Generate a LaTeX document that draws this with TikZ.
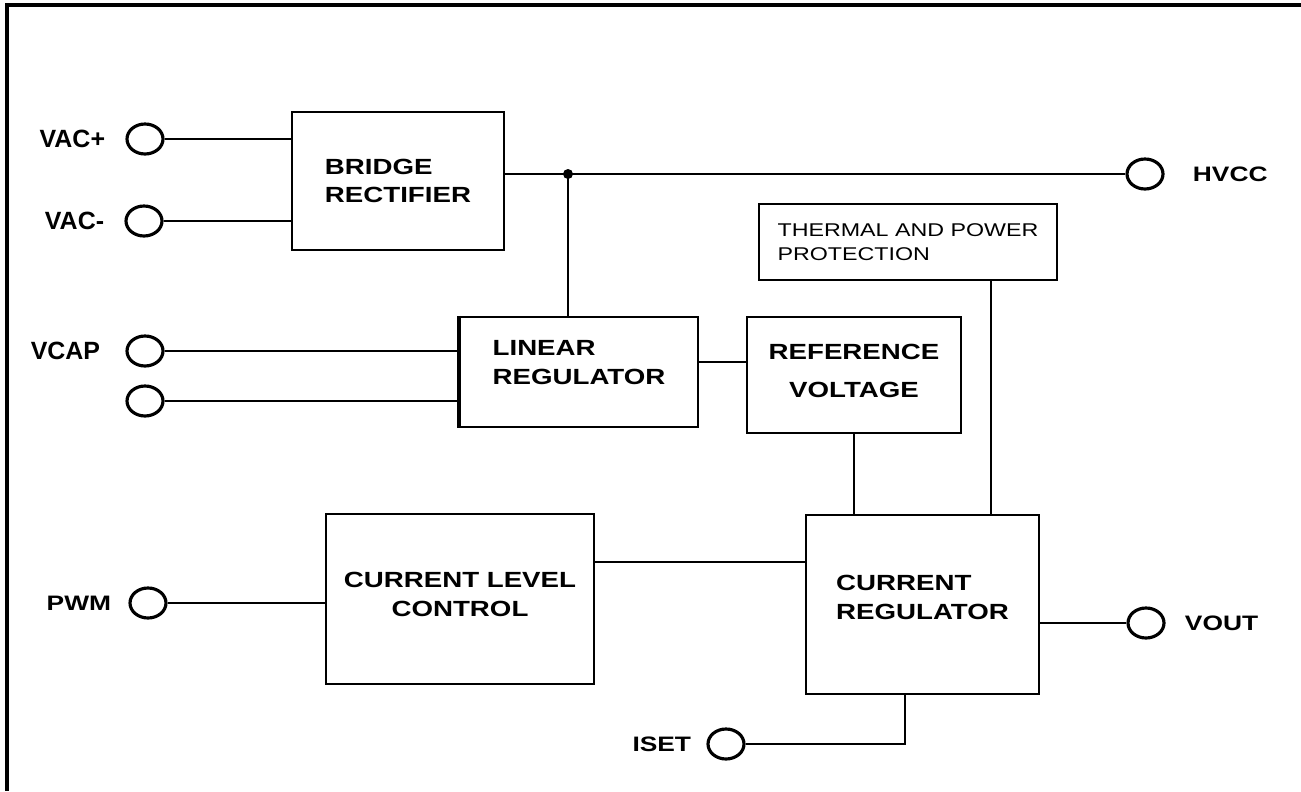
\documentclass[tikz,border=0pt]{standalone}
\usepackage{fontspec}
\setmainfont[FakeStretch=1.26]{Liberation Sans}
\newfontfamily\plainsans{Liberation Sans}
\usetikzlibrary{positioning,shapes.geometric}
\tikzset{
  block/.style={draw, line width=1.4pt, inner sep=0pt, align=center,
    font=\fontsize{12.5}{16.4}\selectfont\bfseries},
  term/.style={draw, ellipse, line width=1.8pt, minimum width=0.72cm, minimum height=0.6cm, inner sep=0pt},
  tag/.style={inner sep=0pt, font=\fontsize{11.9}{14}\selectfont\bfseries},
  plaintag/.style={inner sep=0pt, font=\plainsans\fontsize{14.2}{17}\selectfont\bfseries},
  wire/.style={line width=1.4pt},
}
\begin{document}
\begin{tikzpicture}[x=0.02cm, y=-0.02cm]
        \useasboundingbox (0,0) rectangle (1301,791);
        % frame
        \draw[line width=1.9pt] (1301,5) -- (7,5) -- (7,791);

        % blocks
        \node[block, minimum width=4.24cm, minimum height=2.76cm, align=left] (bridge) at (398,181) {BRIDGE\\RECTIFIER};
        \node[block, minimum width=4.76cm, minimum height=2.2cm, align=left] (linreg) at (579,372) {LINEAR\\REGULATOR\\[-5.1pt]};
        \node[block, minimum width=4.28cm, minimum height=2.32cm, font=\fontsize{12.5}{22}\selectfont\bfseries] (ref) at (854,375) {REFERENCE\\VOLTAGE\\[-17.4pt]};
        \node[block, minimum width=5.96cm, minimum height=1.52cm, align=left, font=\fontsize{10.5}{14}\selectfont] (thermal) at (908,242) {THERMAL AND POWER\\PROTECTION};
        \node[block, minimum width=4.66cm, minimum height=3.58cm, align=left] (curreg) at (922.5,604.5) {CURRENT\\REGULATOR\\[-7.9pt]};
        \node[block, minimum width=5.36cm, minimum height=3.4cm] (level) at (460,599) {CURRENT LEVEL\\CONTROL\\[-11.3pt]};
        \draw[line width=2.6pt] (linreg.north west) -- (linreg.south west);

        % terminals
        \node[term] (vacp) at (145,139) {};
        \node[term] (vacm) at (144,221) {};
        \node[term] (vcap) at (145,351) {};
        \node[term] (vcapb) at (145,401) {};
        \node[term] (pwm) at (148,603) {};
        \node[term] (hvcc) at (1145,174) {};
        \node[term] (vout) at (1146,623) {};
        \node[term] (iset) at (726,744) {};
        \node[plaintag, left=0.4cm of vacp] (vacptxt) {VAC+};
        \node[plaintag, left=0.4cm of vacm] (vacmtxt) {VAC-};
        \node[plaintag, left=0.5cm of vcap] (vcaptxt) {VCAP};
        \node[tag, left=0.34cm of pwm] (pwmtxt) {PWM};
        \node[tag, right=0.56cm of hvcc] (hvcctxt) {HVCC};
        \node[tag, right=0.38cm of vout] (vouttxt) {VOUT};
        \node[tag, left=0.3cm of iset] (isettxt) {ISET};

        % wires
        \coordinate (jn) at (568,174);
        \draw[wire] (vacp) -- (vacp -| bridge.west);
        \draw[wire] (vacm) -- (vacm -| bridge.west);
        \draw[wire] (hvcc -| bridge.east) -- (hvcc);
        \fill (jn) circle (5);
        \draw[wire] (jn) -- (jn |- linreg.north);
        \draw[wire] (vcap) -- (vcap -| linreg.west);
        \draw[wire] (vcapb) -- (vcapb -| linreg.west);
        \draw[wire] ([yshift=0.2cm]linreg.east) -- ([yshift=0.2cm]linreg.east -| ref.west);
        \draw[wire] (ref.south) -- (ref.south |- curreg.north);
        \draw[wire] ([xshift=1.66cm]thermal.south) -- ([xshift=1.66cm]thermal.south |- curreg.north);
        \draw[wire] ([yshift=0.74cm]level.east) -- ([yshift=0.74cm]level.east -| curreg.west);
        \draw[wire] (pwm) -- (pwm -| level.west);
        \draw[wire] (vout -| curreg.east) -- (vout);
        \draw[wire] (iset) -| ([xshift=-0.35cm]curreg.south);
    \end{tikzpicture}
\end{document}
